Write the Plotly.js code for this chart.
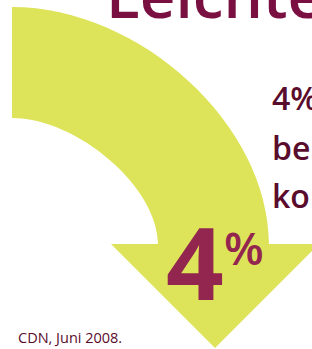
<!DOCTYPE html>
<html>
<head>
<meta charset="utf-8">
<script src="https://cdn.plot.ly/plotly-3.0.1.min.js"></script>
<style>html,body{margin:0;padding:0;background:#fff;overflow:hidden}#chart{width:312px;height:349px}</style>
</head>
<body>
<div id="chart"></div>
<script>
// ---- data ----
const headline = ["Leichte"];
const changeValue = [4];
const changeUnit = ["%"];
const bodyLines = ["4%", "be", "ko"];
const sourceNote = ["CDN, Juni 2008."];

// ---- colours ----
const arrowColor = "#dee45a";
const titleColor = "#7a1042";
const bodyColor = "#5a0c2c";
const bigColor = "#93264f";

const W = 312, H = 349;
const F = "Open Sans, Noto Sans, sans-serif";
function ann(text, x, baseline, size, color, weight, anchor) {
  return {
    xref: "paper", yref: "paper",
    x: x / W, y: 1 - (baseline - 0.388 * size) / H,
    xanchor: anchor || "left", yanchor: "middle",
    text: text, showarrow: false, borderpad: 0,
    font: {family: F, size: size, color: color, weight: weight}
  };
}

const arrowPath = "M 12,7 C 140,7 269,125 269,244 L 319,244 L 215,348 L 111,244 L 158,244 C 158,187 77,118 12,118 Z";

const annotations = [
  ann(headline[0], 105, 18, 62, titleColor, 600),
  ann(bodyLines[0], 271, 110, 32, bodyColor, 600),
  ann(bodyLines[1], 271, 160, 32, bodyColor, 600),
  ann(bodyLines[2], 271, 208, 32, bodyColor, 600),
  ann(String(changeValue[0]), 195, 300, 101, bigColor, 700, "center"),
  ann(changeUnit[0], 244, 265, 46, bigColor, 600, "center"),
  ann(sourceNote[0], 17, 343, 14.5, bodyColor, 400)
];

const layout = {
  width: W, height: H,
  margin: {l: 0, r: 0, t: 0, b: 0},
  paper_bgcolor: "#fff", plot_bgcolor: "#fff",
  showlegend: false,
  xaxis: {range: [0, W], visible: false, fixedrange: true},
  yaxis: {range: [H, 0], visible: false, fixedrange: true},
  shapes: [{type: "path", xref: "x", yref: "y", path: arrowPath,
            fillcolor: arrowColor, line: {width: 0}, layer: "below"}],
  annotations: annotations
};

Plotly.newPlot("chart", [{x: [0], y: [0], mode: "markers", marker: {opacity: 0}, hoverinfo: "skip"}], layout, {staticPlot: true, displayModeBar: false});
</script>
</body>
</html>
